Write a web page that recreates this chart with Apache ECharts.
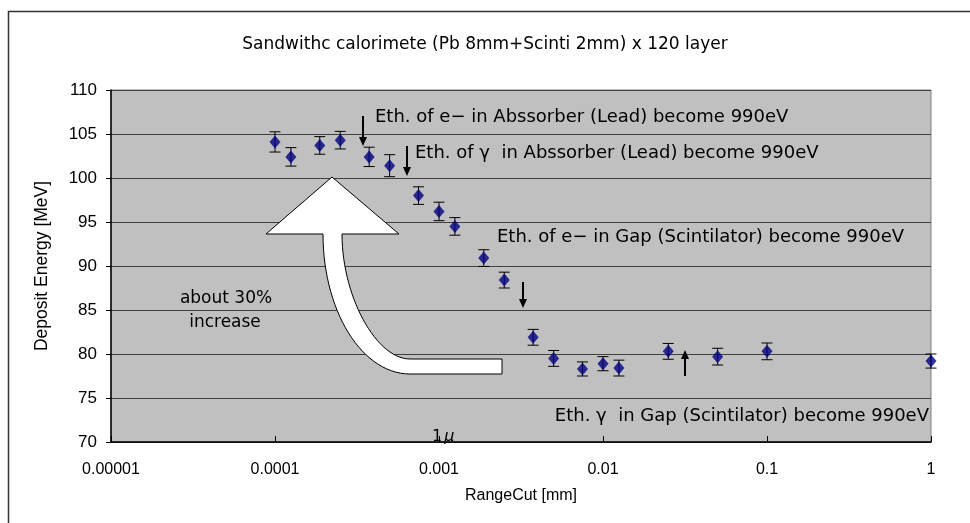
<!DOCTYPE html>
<html>
<head>
<meta charset="utf-8">
<script src="https://cdn.jsdelivr.net/npm/echarts@6/dist/echarts.min.js"></script>
<style>
  html, body { margin: 0; padding: 0; background: #fff; }
  #chart { width: 970px; height: 523px; }
</style>
</head>
<body>
<div id="chart"></div>
<script>
// range cut [mm] and deposit energy [MeV]
const rangeCut = [0.0001, 0.000125, 0.0001875, 0.00025, 0.000375, 0.0005, 0.00075, 0.001, 0.00125, 0.001875,
  0.0025, 0.00375, 0.005, 0.0075, 0.01, 0.0125, 0.025, 0.05, 0.1, 1];
const energy = [104.1, 102.4, 103.7, 104.3, 102.4, 101.4, 98.0, 96.2, 94.5, 90.9,
  88.4, 81.9, 79.5, 78.3, 78.9, 78.4, 80.3, 79.7, 80.3, 79.2];
const energyErr = [1.15, 1.05, 1.0, 1.0, 1.1, 1.25, 1.0, 1.05, 1.0, 0.95,
  0.9, 0.9, 0.9, 0.8, 0.8, 0.9, 0.9, 0.95, 0.95, 0.8];
const xTickLabels = ["0.00001", "0.0001", "0.001", "0.01", "0.1", "1"];

const TEXT_FONT = "DejaVu Sans";
const AXIS_FONT = "Liberation Sans";

const points = rangeCut.map((x, i) => [x, energy[i]]);
const errBars = rangeCut.map((x, i) => [x, energy[i] - energyErr[i], energy[i] + energyErr[i]]);

function renderErrorBar(params, api) {
  const lo = api.coord([api.value(0), api.value(1)]);
  const hi = api.coord([api.value(0), api.value(2)]);
  const w = 5.5;
  const style = { stroke: "#000", lineWidth: 1 };
  return {
    type: "group",
    children: [
      { type: "line", shape: { x1: lo[0], y1: lo[1], x2: hi[0], y2: hi[1] }, style },
      { type: "line", shape: { x1: lo[0] - w, y1: lo[1], x2: lo[0] + w, y2: lo[1] }, style },
      { type: "line", shape: { x1: hi[0] - w, y1: hi[1], x2: hi[0] + w, y2: hi[1] }, style }
    ]
  };
}

function cubic(p0, p1, p2, p3, n) {
  const out = [];
  for (let i = 0; i <= n; i += 1) {
    const t = i / n;
    const a = (1 - t) * (1 - t) * (1 - t);
    const b = 3 * (1 - t) * (1 - t) * t;
    const c = 3 * (1 - t) * t * t;
    const d = t * t * t;
    out.push([
      a * p0[0] + b * p1[0] + c * p2[0] + d * p3[0],
      a * p0[1] + b * p1[1] + c * p2[1] + d * p3[1]
    ]);
  }
  return out;
}

// big curved "increase" arrow
function bigArrowPoints() {
  const pts = [[332, 177], [399, 234], [342, 234]];
  cubic([342, 234], [342, 296], [376, 359], [410, 359], 30).forEach((p) => pts.push(p));
  pts.push([502, 359], [502, 374]);
  cubic([410, 374], [362, 374], [323, 311], [323, 234], 30).forEach((p) => pts.push(p));
  pts.push([266, 234]);
  return pts;
}

function smallArrow(x, yFrom, yTip) {
  const dir = yTip > yFrom ? 1 : -1;
  return [
    { type: "line", shape: { x1: x, y1: yFrom, x2: x, y2: yTip - dir * 6 }, style: { stroke: "#000", lineWidth: 2 } },
    { type: "polygon", shape: { points: [[x - 4, yTip - dir * 9], [x + 4, yTip - dir * 9], [x, yTip]] }, style: { fill: "#000" } }
  ];
}

function label(text, x, y, align, size) {
  return {
    type: "text",
    x, y,
    style: {
      text, fill: "#000", font: (size || 18) + "px '" + TEXT_FONT + "'",
      align: align || "left", verticalAlign: "middle"
    }
  };
}

const chart = echarts.init(document.getElementById("chart"), null, { renderer: "canvas" });

chart.setOption({
  animation: false,
  title: {
    text: "Sandwithc calorimete (Pb 8mm+Scinti 2mm) x 120 layer",
    left: "center",
    top: 31,
    textStyle: { fontFamily: TEXT_FONT, fontSize: 17, fontWeight: "normal", color: "#000" }
  },
  grid: {
    left: 111, right: 39, top: 90, bottom: 81,
    show: true, backgroundColor: "#c0c0c0", borderColor: "#808080", borderWidth: 1
  },
  xAxis: {
    type: "log", logBase: 10, min: 0.00001, max: 1,
    name: "RangeCut [mm]", nameLocation: "middle", nameGap: 46,
    nameTextStyle: { fontFamily: AXIS_FONT, fontSize: 16, color: "#000" },
    axisLine: { lineStyle: { color: "#000", width: 1.5 } },
    axisTick: { inside: true, length: 6, lineStyle: { color: "#000" } },
    minorTick: { show: false },
    splitLine: { show: false },
    axisLabel: {
      margin: 20, fontFamily: AXIS_FONT, fontSize: 16, color: "#000",
      formatter: (v) => xTickLabels[Math.round(Math.log10(v)) + 5] || ""
    }
  },
  yAxis: {
    type: "value", min: 70, max: 110, interval: 5,
    name: "Deposit Energy [MeV]", nameLocation: "middle", nameGap: 60, nameRotate: 90,
    nameTextStyle: { fontFamily: AXIS_FONT, fontSize: 17.5, color: "#000" },
    axisLine: { show: true, lineStyle: { color: "#000", width: 1.5 } },
    axisTick: { show: true, inside: false, length: 5, lineStyle: { color: "#000" } },
    splitLine: { show: true, lineStyle: { color: "#404040", width: 1 } },
    axisLabel: { margin: 14, fontFamily: AXIS_FONT, fontSize: 17, color: "#000" }
  },
  series: [
    {
      type: "custom",
      renderItem: renderErrorBar,
      data: errBars,
      z: 3
    },
    {
      type: "scatter",
      data: points,
      symbol: "diamond",
      symbolSize: [11, 13],
      itemStyle: { color: "#000080" },
      z: 4
    }
  ],
  graphic: [
    { type: "rect", shape: { x: 8.5, y: 11.5, width: 990, height: 600 }, style: { fill: null, stroke: "#333", lineWidth: 1.5 }, z: 100 },
    { type: "polygon", shape: { points: bigArrowPoints() }, style: { fill: "#fff", stroke: "#000", lineWidth: 1 }, z: 50 },
    ...smallArrow(363, 116, 146),
    ...smallArrow(407, 146, 176),
    ...smallArrow(523, 282, 308),
    ...smallArrow(685, 376, 350),
    label("Eth. of e\u2212 in Abssorber (Lead) become 990eV", 375, 117),
    label("Eth. of \u03b3  in Abssorber (Lead) become 990eV", 415, 153),
    label("Eth. of e\u2212 in Gap (Scintilator) become 990eV", 497, 237),
    label("Eth. \u03b3  in Gap (Scintilator) become 990eV", 929, 416, "right"),
    label("about 30%", 226, 299, "center", 17),
    label("increase", 225, 323, "center", 17),
    {
      type: "text", x: 432, y: 437,
      style: {
        text: "1{m|\u03bc}", fill: "#000", font: "16px '" + TEXT_FONT + "'", verticalAlign: "middle",
        rich: { m: { fontStyle: "italic", fontFamily: TEXT_FONT, fontSize: 16, padding: [0, 0, 0, 2] } }
      }
    }
  ].map((g) => (g.z === undefined ? Object.assign(g, { z: 60 }) : g))
});
</script>
</body>
</html>
